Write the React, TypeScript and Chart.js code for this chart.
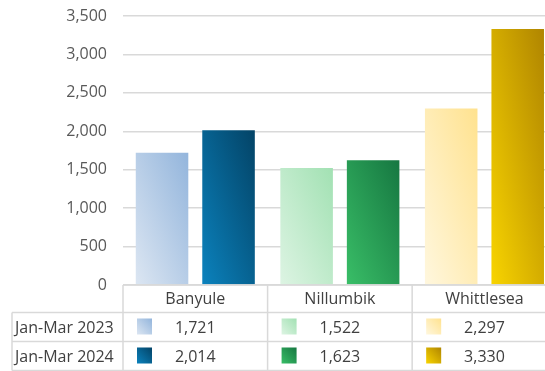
import React, { useEffect, useRef } from 'react';
import { Chart, registerables } from 'chart.js';

Chart.register(...registerables);

// ---- data ----
const categories = ['Banyule', 'Nillumbik', 'Whittlesea'];
const seriesNames = ['Jan-Mar 2023', 'Jan-Mar 2024'];
const values2023 = [1721, 1522, 2297];
const values2024 = [2014, 1623, 3330];
const yMin = 0;
const yMax = 3500;
const yStep = 500;

// ---- styles ----
// palette[series][category] = [light (bottom-left), dark (top-right)]
const palette: string[][][] = [
  [
    ['#dce6f2', '#93b5dc'],
    ['#ddf4e3', '#a2e1b3'],
    ['#fff7de', '#ffe28f'],
  ],
  [
    ['#0b82bd', '#034366'],
    ['#39be67', '#167741'],
    ['#f8d400', '#b08500'],
  ],
];

const FONT = '"Open Sans", sans-serif';
const CAT_PCT = 0.92;
const BAR_PCT = 0.79;
const W = 570;
const H = 380;
const GRID = '#d9d9d9';
const PLOT_LEFT = 123;
const PLOT_RIGHT = 556.75;
const PLOT_TOP = 16;
const PLOT_BOTTOM = 285;

function diagGradient(
  ctx: CanvasRenderingContext2D,
  left: number,
  top: number,
  right: number,
  bottom: number,
  c0: string,
  c1: string
) {
  const w = right - left;
  const h = bottom - top;
  const L2 = w * w + h * h;
  if (!(L2 > 0) || !isFinite(L2)) return c1;
  const x1 = left + (2 * w * h * h) / L2;
  const y1 = bottom - (2 * w * w * h) / L2;
  const g = ctx.createLinearGradient(left, bottom, x1, y1);
  g.addColorStop(0, c0);
  g.addColorStop(1, c1);
  return g;
}

function barFill(ds: number) {
  return (c: any) => {
    const chart = c.chart;
    const idx = c.dataIndex ?? 0;
    const [c0, c1] = palette[ds][idx] || palette[ds][0];
    const xs = chart.scales?.x;
    const ys = chart.scales?.y;
    if (!xs || !ys || c.type !== 'data' || !chart.chartArea) return c1;
    const catW = xs.width / categories.length;
    const slot = (catW * CAT_PCT) / 2;
    const barW = slot * BAR_PCT;
    const cx = xs.getPixelForValue(idx) + (ds - 0.5) * slot;
    const top = ys.getPixelForValue(c.raw);
    const bottom = ys.getPixelForValue(0);
    return diagGradient(chart.ctx, cx - barW / 2, top, cx + barW / 2, bottom, c0, c1);
  };
}

const tablePlugin = {
  id: 'dataTable',
  afterDraw(chart: any) {
    const ctx: CanvasRenderingContext2D = chart.ctx;
    const xs = chart.scales.x;
    const area = chart.chartArea;
    const catW = xs.width / categories.length;
    const yHeader = area.bottom;
    const rowTops = [yHeader, 312.5, 341.5, 370.5];
    const labelLeft = 12;
    const right = area.right;

    ctx.save();
    ctx.strokeStyle = GRID;
    ctx.lineWidth = 1.5;
    ctx.beginPath();
    ctx.moveTo(area.left, rowTops[0]);
    ctx.lineTo(right, rowTops[0]);
    for (let r = 1; r < rowTops.length; r++) {
      ctx.moveTo(labelLeft, rowTops[r]);
      ctx.lineTo(right, rowTops[r]);
    }
    ctx.moveTo(labelLeft, rowTops[1]);
    ctx.lineTo(labelLeft, rowTops[3]);
    for (let i = 0; i <= categories.length; i++) {
      const x = area.left + i * catW;
      ctx.moveTo(x, rowTops[0]);
      ctx.lineTo(x, rowTops[3]);
    }
    ctx.stroke();

    ctx.font = `16px ${FONT}`;
    ctx.fillStyle = '#404040';
    ctx.textBaseline = 'middle';

    ctx.textAlign = 'center';
    categories.forEach((cat, i) => {
      const cx = xs.getPixelForValue(i);
      ctx.fillText(cat, cx, (rowTops[0] + rowTops[1]) / 2 + 1);
    });

    const seriesValues = [values2023, values2024];
    seriesNames.forEach((name, s) => {
      const yc = (rowTops[s + 1] + rowTops[s + 2]) / 2;
      ctx.textAlign = 'left';
      ctx.fillStyle = '#404040';
      ctx.fillText(name, 15, yc + 1);
      seriesValues[s].forEach((v, i) => {
        const colLeft = area.left + i * catW;
        const sx = colLeft + 14;
        const sy = yc - 8.5;
        const [c0, c1] = palette[s][i];
        ctx.fillStyle = diagGradient(ctx, sx, sy, sx + 15, sy + 16, c0, c1) as any;
        ctx.fillRect(sx, sy, 15, 16);
        ctx.fillStyle = '#404040';
        ctx.textAlign = 'center';
        ctx.fillText(v.toLocaleString('en-US'), xs.getPixelForValue(i), yc + 1);
      });
    });
    ctx.restore();
  },
};

export default function App() {
  const ref = useRef<HTMLCanvasElement | null>(null);

  useEffect(() => {
    if (!ref.current) return;
    const chart = new Chart(ref.current, {
      type: 'bar',
      data: {
        labels: categories,
        datasets: [
          {
            label: seriesNames[0],
            data: values2023,
            backgroundColor: barFill(0) as any,
            borderWidth: 0,
            categoryPercentage: CAT_PCT,
            barPercentage: BAR_PCT,
          },
          {
            label: seriesNames[1],
            data: values2024,
            backgroundColor: barFill(1) as any,
            borderWidth: 0,
            categoryPercentage: CAT_PCT,
            barPercentage: BAR_PCT,
          },
        ],
      },
      options: {
        responsive: false,
        animation: false,
        devicePixelRatio: 1,
        layout: {
          padding: {
            top: PLOT_TOP,
            left: 0,
            right: W - PLOT_RIGHT,
            bottom: H - PLOT_BOTTOM,
          },
        },
        plugins: {
          legend: { display: false },
          tooltip: { enabled: false },
        },
        scales: {
          x: { display: false },
          y: {
            min: yMin,
            max: yMax,
            border: { display: false },
            grid: { color: GRID, lineWidth: 1.5, drawTicks: false },
            ticks: {
              stepSize: yStep,
              padding: 16,
              color: '#595959',
              font: { family: FONT, size: 16 },
              callback: (v: any) => Number(v).toLocaleString('en-US'),
            },
            afterFit: (s: any) => {
              s.width = PLOT_LEFT;
              s.paddingTop = 0;
              s.paddingBottom = 0;
            },
          },
        },
      },
      plugins: [tablePlugin],
    });
    return () => chart.destroy();
  }, []);

  return (
    <div
      style={{
        position: 'fixed',
        left: 0,
        top: 0,
        width: 545,
        height: 371,
        overflow: 'hidden',
        background: '#fff',
      }}
    >
      <canvas ref={ref} width={W} height={H} style={{ display: 'block', width: W, height: H }} />
    </div>
  );
}
